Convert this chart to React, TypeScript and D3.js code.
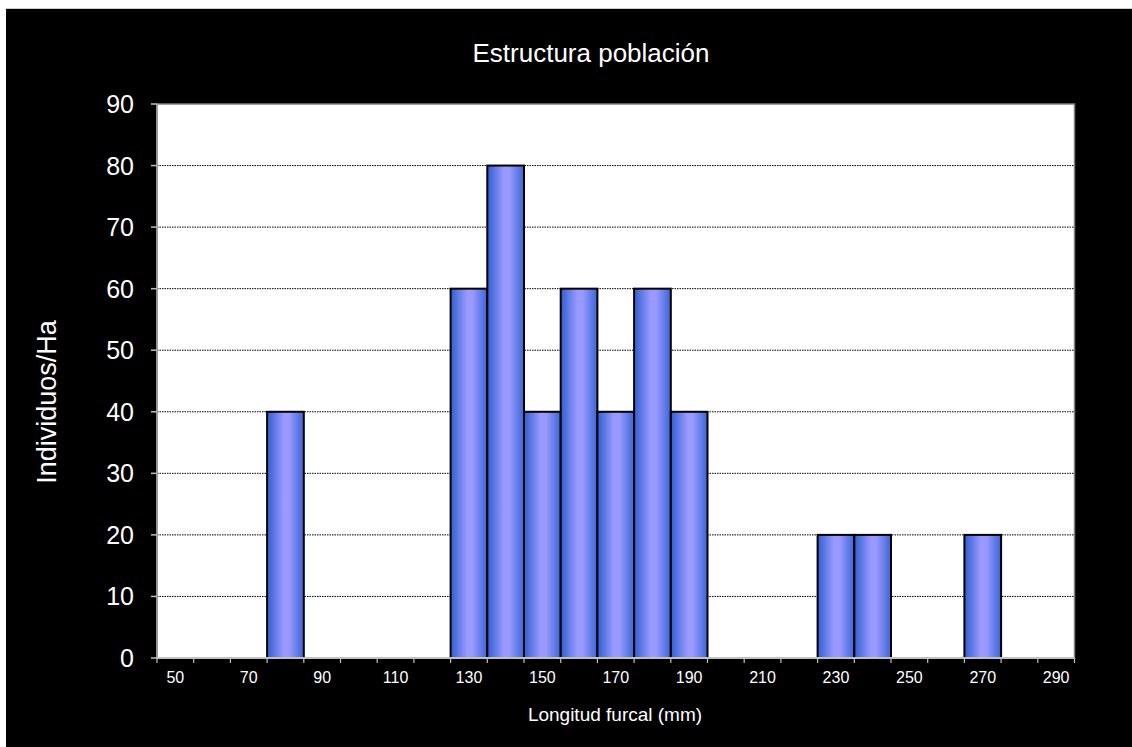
import React from "react";
import * as d3 from "d3";

const categories = [50,60,70,80,90,100,110,120,130,140,150,160,170,180,190,200,210,220,230,240,250,260,270,280,290];
const values =     [0, 0, 0, 40, 0, 0, 0, 0, 60, 80, 40, 60, 40, 60, 40, 0, 0, 0, 20, 20, 0, 0, 20, 0, 0];
const yTicks = [0,10,20,30,40,50,60,70,80,90];
const labelCats = [50,70,90,110,130,150,170,190,210,230,250,270,290];

export default function App() {
  const W = 1132, H = 747;
  const left = 157, right = 1074.5, top = 104, bottom = 658;
  const x = d3.scaleBand<number>().domain(categories).range([left, right]).padding(0);
  const y = d3.scaleLinear().domain([0, 90]).range([bottom, top]);
  const bw = x.bandwidth();
  const font = "'Liberation Sans', Arial, sans-serif";
  return (
    <svg width={W} height={H} style={{ position: "absolute", left: 0, top: 0 }}>
      <defs>
        <linearGradient id="barg" x1="0" x2="1" y1="0" y2="0">
          <stop offset="0" stopColor="#2f5fd0" />
          <stop offset="0.45" stopColor="#9999ff" />
          <stop offset="0.6" stopColor="#9999ff" />
          <stop offset="1" stopColor="#3a66d6" />
        </linearGradient>
      </defs>
      <rect x={0} y={0} width={W} height={H} fill="#fff" />
      <rect x={6} y={8} width={W - 6} height={H - 8} fill="#000" />
      <line x1={6} x2={W} y1={8.5} y2={8.5} stroke="#ccc" />
      <rect x={left} y={top} width={right - left} height={bottom - top} fill="#fff" stroke="#808080" strokeWidth={1.5} />
      {yTicks.filter(t => t > 0 && t < 90).map(t => (
        <line key={"g" + t} x1={left} x2={right} y1={y(t)} y2={y(t)} stroke="#000" strokeWidth={1} strokeDasharray="1.5,1" />
      ))}
      {categories.map((c, i) => values[i] > 0 ? (
        <rect key={"b" + c} x={x(c)!} y={y(values[i])} width={bw} height={bottom - y(values[i])}
          fill="url(#barg)" stroke="#000" strokeWidth={2} />
      ) : null)}
      <line x1={left} x2={left} y1={top} y2={bottom} stroke="#a0a0a0" strokeWidth={1.5} />
      <line x1={left} x2={right} y1={bottom} y2={bottom} stroke="#c0c0c0" strokeWidth={2} />
      {yTicks.map(t => (
        <g key={"y" + t}>
          <line x1={left - 6} x2={left} y1={y(t)} y2={y(t)} stroke="#c0c0c0" strokeWidth={1.5} />
          <text x={134} y={y(t)} dy="0.36em" textAnchor="end" fill="#fff" fontFamily={font} fontSize={25}>{t}</text>
        </g>
      ))}
      {d3.range(categories.length + 1).map(i => (
        <line key={"xt" + i} x1={left + i * bw} x2={left + i * bw} y1={bottom} y2={bottom + 5} stroke="#c0c0c0" strokeWidth={1.2} />
      ))}
      {labelCats.map(c => (
        <text key={"xl" + c} x={x(c)! + bw / 2} y={683} textAnchor="middle" fill="#fff" fontFamily={font} fontSize={16}>{c}</text>
      ))}
      <text x={591} y={62} textAnchor="middle" fill="#fff" fontFamily={font} fontSize={26}>Estructura población</text>
      <text x={615} y={721} textAnchor="middle" fill="#fff" fontFamily={font} fontSize={19}>Longitud furcal (mm)</text>
      <text transform={`translate(56,402) rotate(-90)`} textAnchor="middle" fill="#fff" fontFamily={font} fontSize={27}>Individuos/Ha</text>
    </svg>
  );
}
